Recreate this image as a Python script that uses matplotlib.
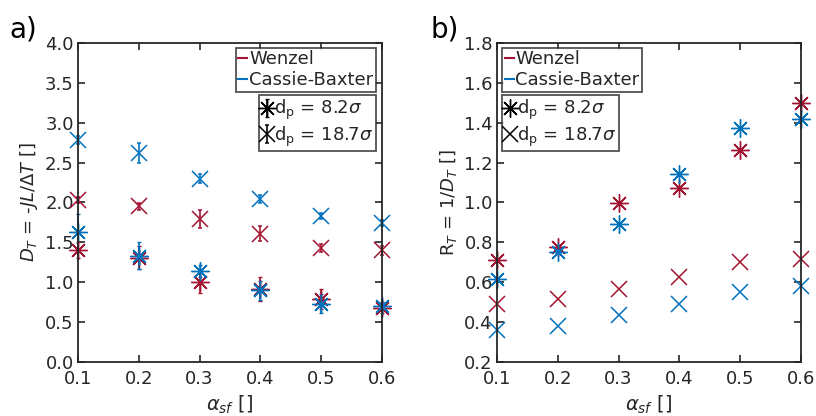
import numpy as np
import matplotlib
matplotlib.use('Agg')
import matplotlib.pyplot as plt
from matplotlib.lines import Line2D

# surface fluid interaction strength
alpha = [0.1, 0.2, 0.3, 0.4, 0.5, 0.6]

# a) thermal diffusion coefficient D_T, with error bars
D_w_82 = [1.40, 1.31, 1.00, 0.91, 0.79, 0.68]
D_w_82_err = [0.10, 0.15, 0.13, 0.15, 0.13, 0.07]
D_cb_82 = [1.63, 1.33, 1.14, 0.90, 0.73, 0.70]
D_cb_82_err = [0.22, 0.17, 0.08, 0.12, 0.12, 0.05]
D_w_187 = [2.03, 1.95, 1.79, 1.61, 1.43, 1.40]
D_w_187_err = [0.04, 0.04, 0.11, 0.09, 0.05, 0.06]
D_cb_187 = [2.78, 2.62, 2.30, 2.04, 1.83, 1.74]
D_cb_187_err = [0.05, 0.12, 0.06, 0.05, 0.04, 0.04]

# b) thermal resistance R_T = 1/D_T
R_w_82 = [0.714, 0.778, 0.999, 1.074, 1.264, 1.499]
R_cb_82 = [0.616, 0.750, 0.890, 1.143, 1.373, 1.420]
R_w_187 = [0.493, 0.515, 0.564, 0.624, 0.700, 0.716]
R_cb_187 = [0.360, 0.380, 0.435, 0.490, 0.549, 0.580]

red = '#A2142F'
blue = '#0072BD'
txt = '#262626'
ast = (8, 2, 0)  # matlab style asterisk

plt.rcParams['font.family'] = 'DejaVu Sans'
plt.rcParams['mathtext.fontset'] = 'dejavusans'
plt.rcParams['font.size'] = 13
plt.rcParams['text.color'] = txt
plt.rcParams['axes.labelcolor'] = txt
plt.rcParams['xtick.color'] = txt
plt.rcParams['ytick.color'] = txt

fig = plt.figure(figsize=(8.16, 4.16), dpi=100)
ax1 = fig.add_axes([0.0956, 0.1298, 0.3725, 0.767])
ax2 = fig.add_axes([0.609, 0.1298, 0.3725, 0.767])

# marker styles: x and asterisk
mx = dict(linestyle='none', markersize=11, markeredgewidth=1.1, clip_on=False)
ma = dict(linestyle='none', markersize=13, markeredgewidth=1.0, clip_on=False)
eb = dict(elinewidth=1.2, capsize=1.5, capthick=1.2)

# ---- panel a
ax1.errorbar(alpha, D_w_187, yerr=D_w_187_err, marker='x', color=red, **mx, **eb)
ax1.errorbar(alpha, D_cb_187, yerr=D_cb_187_err, marker='x', color=blue, **mx, **eb)
ax1.errorbar(alpha, D_w_82, yerr=D_w_82_err, marker=ast, color=red, **ma, **eb)
ax1.errorbar(alpha, D_cb_82, yerr=D_cb_82_err, marker=ast, color=blue, **ma, **eb)
ax1.set_ylim(0, 4)
ax1.set_yticks(np.arange(0, 4.01, 0.5))
ax1.set_ylabel(r'$\mathit{D_T}$ = -$\mathit{JL/\Delta T}$ $\mathit{[]}$', fontsize=13)

# ---- panel b
ax2.plot(alpha, R_w_82, marker=ast, color=red, **ma)
ax2.plot(alpha, R_cb_82, marker=ast, color=blue, **ma)
ax2.plot(alpha, R_w_187, marker='x', color=red, **mx)
ax2.plot(alpha, R_cb_187, marker='x', color=blue, **mx)
ax2.set_ylim(0.2, 1.8)
ax2.set_yticks(np.arange(0.2, 1.81, 0.2))
ax2.set_ylabel(r'R$_T$ = $\mathit{1/D_T}$ $\mathit{[]}$', fontsize=13)

for ax in (ax1, ax2):
    ax.set_xlim(0.1, 0.6)
    ax.set_xticks(alpha)
    ax.yaxis.set_major_formatter(matplotlib.ticker.FormatStrFormatter('%.1f'))
    ax.set_xlabel(r'$\mathit{\alpha_{sf}}$ $\mathit{[]}$', fontsize=14)
    ax.tick_params(direction='in', length=5, width=1.2, top=True, right=True,
                   labelsize=13)
    ax.tick_params(axis='x', pad=6)
    ax.tick_params(axis='y', pad=3)
    for s in ax.spines.values():
        s.set_linewidth(1.3)
        s.set_color(txt)

leg_kw = dict(fontsize=13, frameon=True, fancybox=False, edgecolor=txt,
              borderaxespad=0, handletextpad=0.1, borderpad=0.15,
              labelspacing=0.15)
lab82 = r'd$_\mathregular{p}$ = 8.2$\sigma$'
lab187 = r'd$_\mathregular{p}$ = 18.7$\sigma$'

color_h = [Line2D([], [], color=red, lw=1.5), Line2D([], [], color=blue, lw=1.5)]
kx = dict(markersize=11, markeredgewidth=1.1)
ka = dict(markersize=13, markeredgewidth=1.0)

# panel a legends
l1 = ax1.legend(color_h, ['Wenzel', 'Cassie-Baxter'], loc='upper right',
                bbox_to_anchor=(0.98, 0.985), handlelength=0.5, **leg_kw)
l1.get_frame().set_linewidth(1.3)
ax1.add_artist(l1)
h82 = ax1.errorbar([np.nan], [np.nan], yerr=[0.1], marker=ast, color='k',
                   linestyle='none', **ka, **eb)
h187 = ax1.errorbar([np.nan], [np.nan], yerr=[0.1], marker='x', color='k',
                    linestyle='none', **kx, **eb)
l2 = ax1.legend([h82, h187], [lab82, lab187], loc='upper right',
                bbox_to_anchor=(0.98, 0.837), handlelength=0.6, **leg_kw)
l2.get_frame().set_linewidth(1.3)

# panel b legends
l3 = ax2.legend(color_h, ['Wenzel', 'Cassie-Baxter'], loc='upper left',
                bbox_to_anchor=(0.016, 0.985), handlelength=0.5, **leg_kw)
l3.get_frame().set_linewidth(1.3)
ax2.add_artist(l3)
m82 = Line2D([], [], marker=ast, color='k', linestyle='none', **ka)
m187 = Line2D([], [], marker='x', color='k', linestyle='none', **kx)
l4 = ax2.legend([m82, m187], [lab82, lab187], loc='upper left',
                bbox_to_anchor=(0.016, 0.837), handlelength=0.6, **leg_kw)
l4.get_frame().set_linewidth(1.3)

fig.text(0.012, 0.91, 'a)', fontsize=20, color='k')
fig.text(0.527, 0.91, 'b)', fontsize=20, color='k')

fig.savefig('out.png', dpi=100)
